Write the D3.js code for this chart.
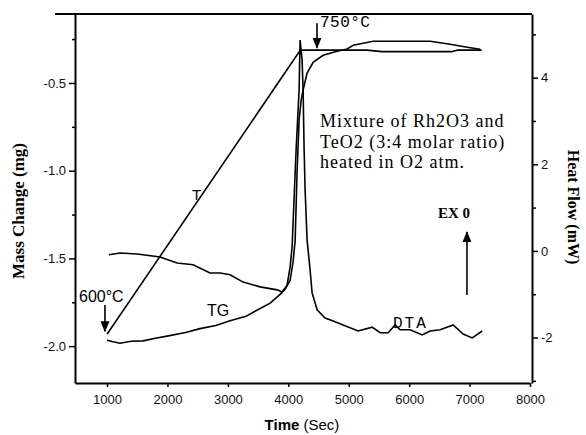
<!DOCTYPE html>
<html>
<head>
<meta charset="utf-8">
<title>TG / DTA of Rh2O3 + TeO2</title>
<script src="https://d3js.org/d3.v7.min.js"></script>
<style>
  body { margin: 0; background: #fff; }
  svg { display: block; }
  .tick text { font-family: "Liberation Sans", Arial, sans-serif; font-size: 13px; fill: #111; }
  .axis path, .axis line { stroke: #000; }
</style>
</head>
<body>
<svg id="chart" width="586" height="435"></svg>
<script>
// time axis ticks (s)
var timeTicks = [1000, 2000, 3000, 4000, 5000, 6000, 7000, 8000];
var massTicks = [-2.0, -1.5, -1.0, -0.5];
var massMinor = [-1.75, -1.25, -0.75, -0.25];
var heatTicks = [-2, 0, 2, 4];
var heatMinor = [-3, -1, 1, 3, 5];

// TG curve: time (s), mass change (mg)
var tgTime = [1000, 1100, 1215, 1400, 1596, 1800, 1993, 2300, 2540, 2800, 3036, 3300, 3533, 3700, 3864, 3950, 4030, 4079, 4113, 4146, 4179, 4212, 4245, 4311, 4411, 4576, 4808, 4973, 5073, 5404, 6348, 6679, 6960, 7175];
var tgMass = [-1.966, -1.975, -1.983, -1.972, -1.970, -1.955, -1.943, -1.922, -1.900, -1.882, -1.855, -1.830, -1.785, -1.755, -1.705, -1.675, -1.624, -1.52, -1.40, -1.00, -0.71, -0.60, -0.54, -0.444, -0.382, -0.342, -0.319, -0.306, -0.285, -0.262, -0.262, -0.279, -0.296, -0.308];

// DTA curve: time (s), heat flow (mW)
var dtaTime = [1033, 1215, 1497, 1877, 2159, 2424, 2705, 2871, 3036, 3252, 3533, 3815, 3897, 3980, 4030, 4063, 4129, 4179, 4195, 4228, 4245, 4262, 4278, 4311, 4361, 4394, 4477, 4609, 4742, 4907, 5156, 5387, 5520, 5652, 5768, 5851, 6016, 6215, 6348, 6513, 6728, 6894, 7043, 7209];
var dtaHeat = [-0.09, -0.05, -0.07, -0.14, -0.28, -0.32, -0.51, -0.51, -0.55, -0.72, -0.83, -0.90, -0.95, -0.79, -0.37, 0.09, 2.33, 3.72, 4.87, 4.41, 3.72, 2.33, 1.41, 0.25, -0.44, -0.97, -1.36, -1.55, -1.62, -1.71, -1.85, -1.76, -1.89, -1.89, -1.71, -1.82, -1.82, -1.94, -1.85, -1.82, -1.71, -1.92, -2.01, -1.85];

// temperature programme: time (s), T (°C)
var tTime = [1000, 4200, 5300, 5550, 6700, 6800, 7200];
var tTemp = [600, 750, 750, 749.2, 749.2, 750, 750];

var svg = d3.select("#chart");

var x = d3.scaleLinear().domain([470, 8000]).range([75, 530]);
var yMass = d3.scaleLinear().domain([-2.21, -0.107]).range([383, 14]);
var yHeat = d3.scaleLinear().domain([-3.05, 5.47]).range([383, 14]);
var yTemp = d3.scaleLinear().domain([600, 750]).range([yMass(-1.932), yMass(-0.313)]);

// frame
svg.append("line")
    .attr("x1", 55).attr("x2", 532)
    .attr("y1", 14).attr("y2", 14)
    .attr("stroke", "#000").attr("stroke-width", 2);

var xAxis = svg.append("g").attr("class", "axis")
    .attr("transform", "translate(0,383)")
    .call(d3.axisBottom(x).tickValues(timeTicks).tickSize(4).tickSizeOuter(0).tickFormat(d => d));
xAxis.selectAll("text").attr("dy", "1.1em");

var yAxisL = svg.append("g").attr("class", "axis")
    .attr("transform", "translate(75,0)")
    .call(d3.axisLeft(yMass).tickValues(massTicks).tickSize(6).tickSizeOuter(0).tickFormat(d => d.toFixed(1)));
svg.append("g").attr("class", "axis")
    .attr("transform", "translate(75,0)")
    .call(d3.axisLeft(yMass).tickValues(massMinor).tickSize(3).tickFormat(""))
    .select(".domain").remove();

var yAxisR = svg.append("g").attr("class", "axis")
    .attr("transform", "translate(532,0)")
    .call(d3.axisRight(yHeat).tickValues(heatTicks).tickSize(6).tickSizeOuter(0).tickFormat(d => d));
svg.append("g").attr("class", "axis")
    .attr("transform", "translate(532,0)")
    .call(d3.axisRight(yHeat).tickValues(heatMinor).tickSize(4).tickFormat(""))
    .select(".domain").remove();

svg.selectAll(".axis .domain").attr("stroke-width", 2);
svg.selectAll(".axis .tick line").attr("stroke-width", 1.5);

// curves
var tgData = tgTime.map((t, i) => [t, tgMass[i]]);
var dtaData = dtaTime.map((t, i) => [t, dtaHeat[i]]);
var tData = tTime.map((t, i) => [t, tTemp[i]]);

svg.append("path")
    .attr("d", d3.line().x(d => x(d[0])).y(d => yTemp(d[1]))(tData))
    .attr("fill", "none").attr("stroke", "#000").attr("stroke-width", 1.6);

svg.append("path")
    .attr("d", d3.line().x(d => x(d[0])).y(d => yMass(d[1]))(tgData))
    .attr("fill", "none").attr("stroke", "#000").attr("stroke-width", 1.6);

svg.append("path")
    .attr("d", d3.line().x(d => x(d[0])).y(d => yHeat(d[1]))(dtaData))
    .attr("fill", "none").attr("stroke", "#000").attr("stroke-width", 1.6);

// arrows
svg.append("defs").append("marker")
    .attr("id", "head")
    .attr("viewBox", "0 0 10 10")
    .attr("refX", 9).attr("refY", 5)
    .attr("markerWidth", 7).attr("markerHeight", 7)
    .attr("orient", "auto")
  .append("path")
    .attr("d", "M0,1 L10,5 L0,9 z")
    .attr("fill", "#000");

var arrows = [
    { t: 4475, m0: -0.16, m1: -0.30 },
    { t: 966, m0: -1.766, m1: -1.915 },
    { t: 6957, m0: -1.709, m1: -1.35 }
];
svg.selectAll(".arrow").data(arrows).enter().append("line")
    .attr("class", "arrow")
    .attr("x1", d => x(d.t)).attr("x2", d => x(d.t))
    .attr("y1", d => yMass(d.m0)).attr("y2", d => yMass(d.m1))
    .attr("stroke", "#000").attr("stroke-width", 1.6)
    .attr("marker-end", "url(#head)");

// labels on the plot
var notes = [
    { t: 4524, m: -0.182, text: "750°C", font: "'Liberation Mono', monospace", size: 16, weight: "normal", ls: 0.5 },
    { t: 536, m: -1.749, text: "600°C", font: "'Liberation Sans', Arial, sans-serif", size: 16, weight: "normal", ls: 0 },
    { t: 2406, m: -1.168, text: "T", font: "'Liberation Sans', Arial, sans-serif", size: 15, weight: "normal", ls: 0 },
    { t: 2654, m: -1.829, text: "TG", font: "'Liberation Sans', Arial, sans-serif", size: 16, weight: "normal", ls: 0 },
    { t: 5732, m: -1.897, text: "DTA", font: "'Liberation Mono', monospace", size: 16, weight: "normal", ls: 2 },
    { t: 6477, m: -1.271, text: "EX 0", font: "'Liberation Serif', 'Times New Roman', serif", size: 15, weight: "bold", ls: 0 }
];
svg.selectAll(".note").data(notes).enter().append("text")
    .attr("class", "note")
    .attr("x", d => x(d.t)).attr("y", d => yMass(d.m))
    .attr("font-family", d => d.font)
    .attr("font-size", d => d.size)
    .attr("font-weight", d => d.weight)
    .attr("letter-spacing", d => d.ls)
    .text(d => d.text);

var blurb = ["Mixture of Rh2O3 and", "TeO2 (3:4 molar ratio)", "heated in O2 atm."];
svg.append("text")
    .attr("x", x(4524)).attr("y", yMass(-0.752))
    .attr("font-family", "'Liberation Serif', 'Times New Roman', serif")
    .attr("font-size", 18)
    .attr("letter-spacing", 1)
    .selectAll("tspan").data(blurb).enter().append("tspan")
    .attr("x", x(4524))
    .attr("dy", (d, i) => i ? 20.5 : 0)
    .text(d => d);

// axis titles
svg.append("text")
    .attr("transform", "translate(24,211) rotate(-90)")
    .attr("text-anchor", "middle")
    .attr("font-family", "'Liberation Serif', 'Times New Roman', serif")
    .attr("font-weight", "bold")
    .attr("font-size", 17)
    .text("Mass Change (mg)");

svg.append("text")
    .attr("transform", "translate(568,207) rotate(90)")
    .attr("text-anchor", "middle")
    .attr("font-family", "'Liberation Serif', 'Times New Roman', serif")
    .attr("font-weight", "bold")
    .attr("font-size", 16)
    .text("Heat Flow (mW)");

var xt = svg.append("text")
    .attr("x", 302).attr("y", 430)
    .attr("text-anchor", "middle")
    .attr("font-family", "'Liberation Sans', Arial, sans-serif")
    .attr("font-size", 15);
xt.append("tspan").attr("font-weight", "bold").text("Time");
xt.append("tspan").text("  (Sec)");
</script>
</body>
</html>
